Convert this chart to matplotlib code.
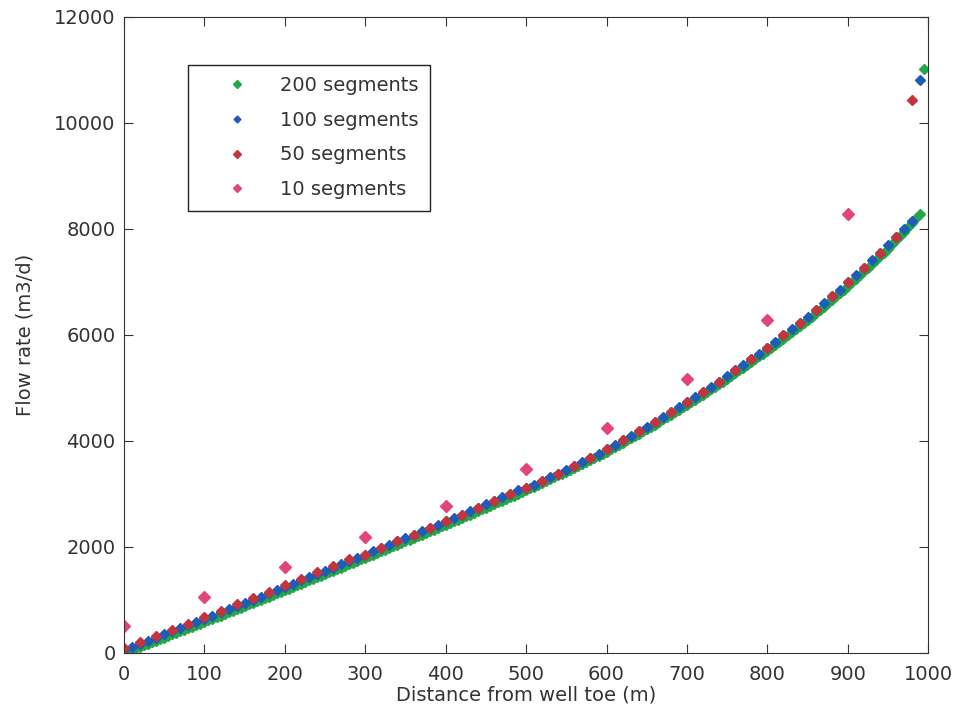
import numpy as np
import matplotlib.pyplot as plt

# segment start positions (m)
x200 = np.arange(0, 1000, 5)
x100 = np.arange(0, 1000, 10)
x50 = np.arange(0, 1000, 20)
x10 = np.arange(0, 1000, 100)

# flow rate (m3/d)
q200 = [0, 30, 60, 85, 115, 145, 175, 205, 230, 260,
        290, 320, 350, 380, 410, 440, 465, 495, 525, 555,
        585, 615, 645, 675, 705, 735, 765, 795, 825, 855,
        885, 915, 945, 975, 1005, 1035, 1065, 1095, 1125, 1155,
        1185, 1215, 1245, 1275, 1305, 1335, 1370, 1400, 1430, 1460,
        1490, 1520, 1550, 1580, 1610, 1640, 1675, 1705, 1735, 1765,
        1795, 1825, 1855, 1890, 1920, 1950, 1980, 2010, 2045, 2075,
        2105, 2135, 2170, 2200, 2230, 2265, 2295, 2325, 2355, 2390,
        2420, 2450, 2485, 2515, 2550, 2580, 2610, 2645, 2675, 2710,
        2740, 2775, 2805, 2840, 2870, 2905, 2940, 2970, 3005, 3035,
        3070, 3105, 3140, 3175, 3210, 3245, 3280, 3315, 3350, 3385,
        3420, 3460, 3495, 3535, 3570, 3610, 3650, 3685, 3725, 3760,
        3800, 3840, 3885, 3925, 3970, 4010, 4050, 4095, 4135, 4180,
        4220, 4265, 4310, 4360, 4405, 4450, 4495, 4540, 4590, 4635,
        4680, 4730, 4780, 4825, 4875, 4925, 4975, 5025, 5070, 5120,
        5170, 5225, 5275, 5330, 5380, 5435, 5490, 5540, 5595, 5645,
        5700, 5760, 5815, 5875, 5930, 5990, 6050, 6105, 6165, 6220,
        6280, 6345, 6410, 6470, 6535, 6600, 6665, 6730, 6790, 6855,
        6920, 6990, 7060, 7130, 7200, 7270, 7340, 7410, 7480, 7550,
        7630, 7710, 7790, 7870, 7950, 8030, 8110, 8200, 8290, 11020]

q100 = [60, 115, 175, 230, 290, 350, 410, 465, 525, 585,
        645, 705, 765, 825, 885, 945, 1005, 1065, 1125, 1185,
        1245, 1305, 1370, 1430, 1490, 1550, 1610, 1675, 1735, 1795,
        1855, 1920, 1980, 2045, 2105, 2170, 2230, 2295, 2355, 2420,
        2485, 2550, 2610, 2675, 2740, 2805, 2870, 2940, 3005, 3070,
        3105, 3175, 3245, 3315, 3385, 3460, 3535, 3610, 3685, 3760,
        3840, 3925, 4010, 4095, 4180, 4265, 4360, 4450, 4540, 4635,
        4730, 4825, 4925, 5025, 5120, 5225, 5330, 5435, 5540, 5645,
        5760, 5875, 5990, 6105, 6220, 6345, 6470, 6600, 6730, 6855,
        6990, 7130, 7270, 7410, 7550, 7695, 7850, 8000, 8150, 10810]

q50 = [85, 205, 320, 440, 555, 675, 795, 915, 1035, 1155,
       1275, 1400, 1520, 1640, 1765, 1855, 1980, 2105, 2230, 2355,
       2485, 2610, 2740, 2870, 3005, 3105, 3245, 3385, 3535, 3685,
       3840, 4010, 4180, 4360, 4540, 4730, 4925, 5120, 5330, 5540,
       5760, 5990, 6220, 6470, 6730, 6990, 7270, 7550, 7850, 10430]

q10 = [500, 1050, 1620, 2180, 2780, 3470, 4250, 5170, 6280, 8290]

labels = ['200 segments', '100 segments', '50 segments', '10 segments']
colors = ['#22a846', '#1f5cb8', '#c4343f', '#e2457e']

fig = plt.figure(figsize=(9.54, 7.22), dpi=100)
ax = fig.add_axes([0.130, 0.0956, 0.843, 0.881])

ax.plot(x200, q200, 'D', color=colors[0], markersize=5.5, label=labels[0])
ax.plot(x100, q100, 'D', color=colors[1], markersize=5, label=labels[1])
ax.plot(x50, q50, 'D', color=colors[2], markersize=5.5, label=labels[2])
ax.plot(x10, q10, 'D', color=colors[3], markersize=6, label=labels[3])

ax.set_xlim(0, 1000)
ax.set_ylim(0, 12000)
ax.set_xticks(range(0, 1001, 100))
ax.set_yticks(range(0, 12001, 2000))

tc = '#333333'
ax.tick_params(direction='in', top=True, right=True, length=6.5,
               labelsize=14, colors=tc, labelcolor=tc)
ax.tick_params(axis='x', pad=9)
ax.tick_params(axis='y', pad=6)
for s in ax.spines.values():
    s.set_color(tc)
ax.set_xlabel('Distance from well toe (m)', fontsize=14, color=tc, labelpad=1)
ax.set_ylabel('Flow rate (m3/d)', fontsize=14, color=tc, labelpad=14)

leg = ax.legend(loc='upper left', bbox_to_anchor=(0.08, 0.925), borderaxespad=0,
                fontsize=14, fancybox=False, edgecolor='#222222', framealpha=1,
                markerscale=0.7, handlelength=3.8, handletextpad=0.3,
                labelspacing=0.8, borderpad=0.6)
for t in leg.get_texts():
    t.set_color(tc)

fig.savefig('out.png', dpi=100)
